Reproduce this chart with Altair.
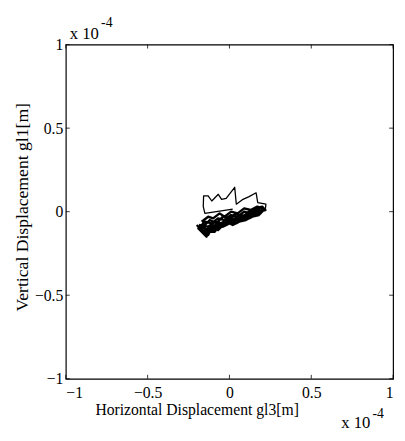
import altair as alt
import pandas as pd

# trajectory (units of 1e-4 m)
outline_x = [0.02, -0.15, -0.16, -0.158, -0.13, -0.108, -0.068, -0.048, -0.02, 0.032, 0.042, 0.083, 0.12, 0.163,
             0.173, 0.223, 0.22, 0.19]
outline_y = [0.015, -0.01, 0.03, 0.094, 0.095, 0.064, 0.104, 0.074, 0.08, 0.146, 0.045, 0.074, 0.09, 0.113,
             0.054, 0.045, 0.02, 0.01]

band_x = [-0.17, -0.13, -0.10, -0.06, -0.03, 0.01, 0.05, 0.09, 0.13, 0.17, 0.21,
          0.19, 0.15, 0.11, 0.07, 0.03, -0.01, -0.05, -0.09, -0.13, -0.18,
          -0.15, -0.12, -0.08, -0.04, 0.00, 0.04, 0.08, 0.12, 0.16, 0.20,
          0.17, 0.13, 0.09, 0.05, 0.01, -0.03, -0.07, -0.11, -0.15, -0.19,
          -0.14, -0.13, -0.09, -0.06, -0.02, 0.02, 0.06, 0.10, 0.14, 0.18, 0.22,
          0.20, 0.16, 0.12, 0.08, 0.04, 0.00, -0.04, -0.08, -0.12, -0.16,
          -0.14, -0.10, -0.07, -0.03, 0.01, 0.05, 0.09, 0.13, 0.17, 0.21,
          0.18, 0.14, 0.10, 0.06, 0.02, -0.02, -0.06, -0.10, -0.14, -0.17,
          -0.13, -0.11, -0.05, -0.01, 0.03, 0.07, 0.11, 0.15, 0.19,
          0.16, 0.11, 0.06, 0.02, -0.03, -0.08, -0.12, -0.16, -0.20]
band_y = [-0.06, -0.03, -0.04, -0.01, -0.03, 0.00, -0.01, 0.02, 0.01, 0.03, 0.02,
          -0.01, 0.00, -0.03, -0.02, -0.05, -0.04, -0.07, -0.06, -0.09, -0.08,
          -0.13, -0.11, -0.10, -0.09, -0.07, -0.07, -0.05, -0.04, -0.02, 0.00,
          0.01, -0.01, 0.00, -0.03, -0.02, -0.05, -0.04, -0.07, -0.06, -0.10,
          -0.15, -0.12, -0.12, -0.08, -0.08, -0.05, -0.04, -0.02, -0.03, 0.00, 0.01,
          0.03, 0.02, 0.00, -0.03, -0.01, -0.04, -0.03, -0.07, -0.05, -0.09,
          -0.11, -0.09, -0.11, -0.07, -0.06, -0.05, -0.04, -0.02, -0.01, 0.01,
          -0.02, -0.03, -0.05, -0.06, -0.08, -0.06, -0.09, -0.08, -0.11, -0.12,
          -0.14, -0.10, -0.09, -0.06, -0.06, -0.03, -0.03, 0.00, 0.02,
          0.00, -0.02, -0.04, -0.04, -0.06, -0.08, -0.09, -0.12, -0.08]

tick_values = [-1, -0.5, 0, 0.5, 1]

FONT = "Liberation Serif"

outline = pd.DataFrame({"x": outline_x, "y": outline_y, "i": list(range(len(outline_x)))})
band = pd.DataFrame({"x": band_x, "y": band_y, "i": list(range(len(band_x)))})
ticks = pd.DataFrame({"t": tick_values})

xscale = alt.Scale(domain=[-1, 1], nice=False, zero=False)
yscale = alt.Scale(domain=[-1, 1], nice=False, zero=False)

labexpr = "datum.value == 0 ? '0' : format(datum.value, '')"
xaxis = alt.Axis(values=tick_values, ticks=False, labelFont=FONT, labelFontSize=16, labelColor="black",
                 labelPadding=6, grid=False, domain=False, title=None, labelExpr=labexpr)
yaxis = alt.Axis(values=tick_values, ticks=False, labelFont=FONT, labelFontSize=16, labelColor="black",
                 labelPadding=3, grid=False, domain=False, title=None, labelExpr=labexpr)

line1 = alt.Chart(outline).mark_line(color="black", strokeWidth=1.3, strokeJoin="round").encode(
    x=alt.X("x:Q", scale=xscale, axis=xaxis),
    y=alt.Y("y:Q", scale=yscale, axis=yaxis),
    order="i:Q",
)
line2 = alt.Chart(band).mark_line(color="black", strokeWidth=2.4, strokeJoin="round").encode(
    x=alt.X("x:Q", scale=xscale),
    y=alt.Y("y:Q", scale=yscale),
    order="i:Q",
)

tk = dict(color="black", strokeWidth=0.8)
xt_bot = alt.Chart(ticks).mark_rule(**tk).encode(x=alt.X("t:Q", scale=xscale), y=alt.value(341), y2=alt.value(337))
xt_top = alt.Chart(ticks).mark_rule(**tk).encode(x=alt.X("t:Q", scale=xscale), y=alt.value(0), y2=alt.value(4))
yt_l = alt.Chart(ticks).mark_rule(**tk).encode(y=alt.Y("t:Q", scale=yscale), x=alt.value(0), x2=alt.value(4))
yt_r = alt.Chart(ticks).mark_rule(**tk).encode(y=alt.Y("t:Q", scale=yscale), x=alt.value(334), x2=alt.value(330))


def txt(s, x, y, size=15, align="left", baseline="alphabetic", angle=0):
    return alt.Chart(pd.DataFrame({"s": [s]})).mark_text(
        font=FONT, fontSize=size, color="black", align=align, baseline=baseline, angle=angle
    ).encode(text="s:N", x=alt.value(x), y=alt.value(y))


texts = [
    txt("x 10", 4, -6, size=17),
    txt("-4", 36, -22, size=14, baseline="middle"),
    txt("x 10", 281, 391, size=17),
    txt("-4", 313, 377, size=14, baseline="middle"),
    txt("Horizontal Displacement gl3[m]", 134, 378, size=16, align="center"),
    txt("Vertical Displacement gl1[m]", -44, 166, size=18, align="center", baseline="middle", angle=270),
]

chart = alt.layer(line1, line2, xt_bot, xt_top, yt_l, yt_r, *texts).properties(
    width=334, height=341,
    background="white",
    autosize=alt.AutoSizeParams(type="none"),
    padding={"left": 59, "top": 33, "right": 4, "bottom": 51},
).configure_view(stroke="black", strokeWidth=1.2)

chart.save("out.html", embed_options={"renderer": "svg", "actions": False})
